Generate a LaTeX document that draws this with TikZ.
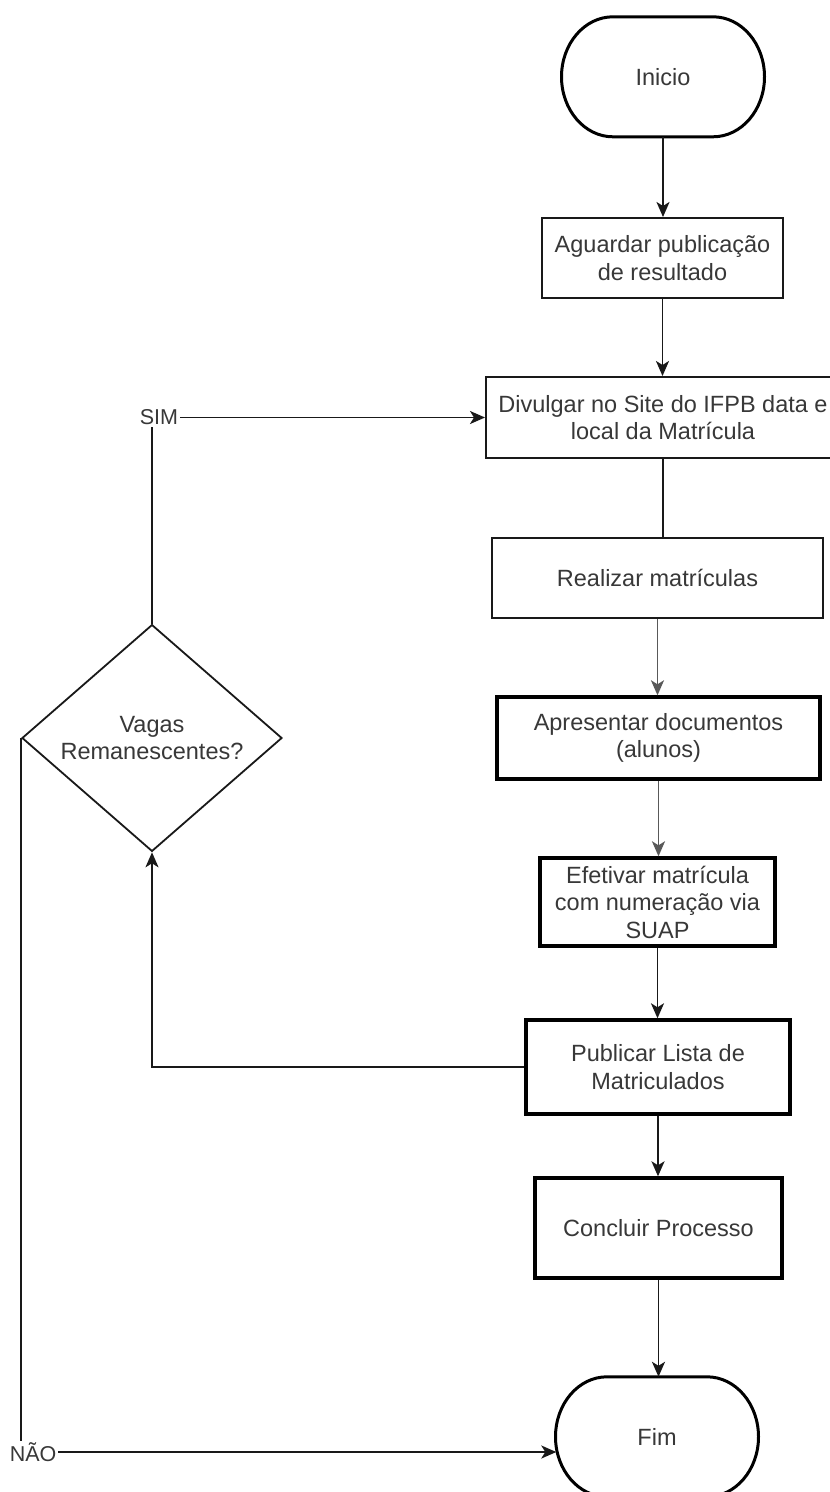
\documentclass[tikz,border=0pt]{standalone}
\usepackage{fontspec}
\setmainfont{Liberation Sans}
\usetikzlibrary{arrows.meta,calc,shapes.geometric}

\tikzset{
  txt/.style={text=black!78, font=\fontsize{23.5}{27.5}\selectfont, align=center, inner sep=0pt},
  box/.style={txt, rectangle, draw=black!90, line width=2pt, fill=white},
  boxthick/.style={box, draw=black, line width=3.4pt},
  term/.style={txt, rectangle, minimum width=203pt, minimum height=120pt},
  termline/.style={draw=black, line width=3pt},
  decision/.style={txt, diamond, draw=black!90, line width=1.8pt, minimum width=260pt, minimum height=219pt, inner sep=0pt},
  flow/.style={draw=black!90, line width=1.9pt},
  arr/.style={flow, -{Stealth[length=15pt,width=13pt,inset=4pt]}},
  lbl/.style={text=black!78, font=\fontsize{21.5}{24}\selectfont, fill=white, inner sep=1.5pt}
}

\begin{document}
\begin{tikzpicture}[x=1pt,y=-1pt]
  \useasboundingbox (0,0) rectangle (830,1492);
  \fill[white] (0,0) rectangle (830,1492);

  % start and end terminals
  \node[term] (ini) at (663,77) {Inicio};
  \node[term] (fim) at (657,1437) {Fim};
  \foreach \t in {ini,fim}{
    \draw[termline] (\t.north) ++(-50,0) -- ++(100,0)
      arc[start angle=90,end angle=-90,x radius=51.5pt,y radius=60pt]
      -- ++(-100,0)
      arc[start angle=270,end angle=90,x radius=51.5pt,y radius=60pt] -- cycle;
  }

  % process steps
  \node[box, minimum width=241pt, minimum height=80pt] (agu) at (662.5,258)
    {Aguardar publicação\\de resultado};
  \node[box, minimum width=354pt, minimum height=81pt] (div) at (663,417.5)
    {Divulgar no Site do IFPB data e\\local da Matrícula};
  \node[box, minimum width=331pt, minimum height=80pt] (rea) at (657.5,578)
    {Realizar matrículas};
  \node[boxthick, minimum width=323pt, minimum height=82pt] (apr) at (658.5,738)
    {Apresentar documentos\\(alunos)};
  \node[boxthick, minimum width=235pt, minimum height=88pt] (efe) at (657.5,902)
    {Efetivar matrícula\\com numeração via\\SUAP};
  \node[boxthick, minimum width=264pt, minimum height=94pt] (pub) at (658,1067)
    {Publicar Lista de\\Matriculados};
  \node[boxthick, minimum width=247pt, minimum height=100pt] (con) at (658.5,1228)
    {Concluir Processo};

  % decision
  \node[decision] (dia) at (152,738) {Vagas\\Remanescentes?};

  % main flow
  \draw[arr] (ini.south) -- (ini.south |- agu.north);
  \draw[arr] (agu.south) -- (agu.south |- div.north);
  \draw[flow] (div.south) -- (div.south |- rea.north);
  \draw[arr, draw=black!65] (rea.south) -- (rea.south |- apr.north);
  \draw[arr, draw=black!65] (apr.south) -- (apr.south |- efe.north);
  \draw[arr] (efe.south) -- (efe.south |- pub.north);
  \draw[arr] (pub.south) -- (pub.south |- con.north);
  \draw[arr] (con.south) -- (con.south |- fim.north);

  % loop back to the decision
  \draw[arr] (pub.west) -| (dia.south);

  % decision outcomes
  \draw[arr] (dia.north) |- node[lbl, pos=0.5, xshift=7pt]{SIM} (div.west);
  \coordinate (fimin) at ($(fim.west)+(1,15)$);
  \draw[arr] (dia.west) |- node[lbl, pos=0.5, xshift=12pt]{NÃO} (fimin);
\end{tikzpicture}
\end{document}
